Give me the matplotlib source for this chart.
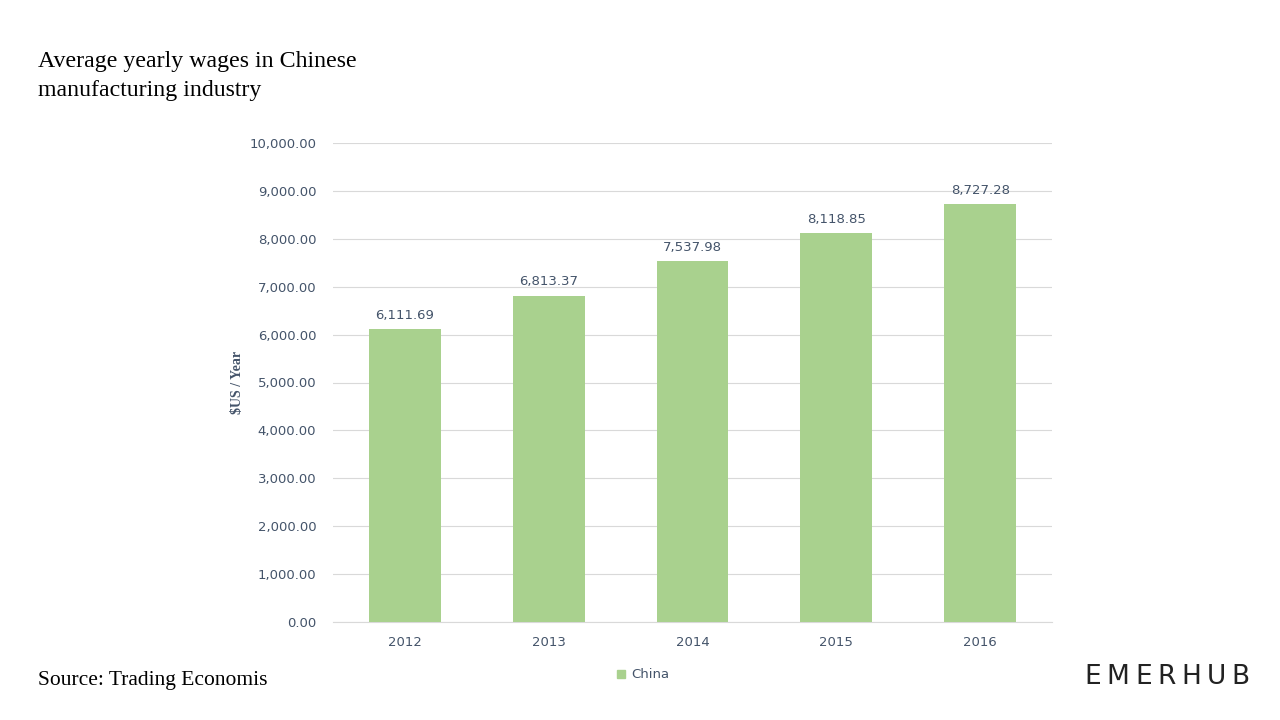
import matplotlib.pyplot as plt
from matplotlib.ticker import FuncFormatter, MultipleLocator
from matplotlib.patches import Rectangle

years = ['2012', '2013', '2014', '2015', '2016']
wages = [6111.69, 6813.37, 7537.98, 8118.85, 8727.28]

BAR = '#A9D18E'
TXT = '#44546A'
GRID = '#D9D9D9'

fig = plt.figure(figsize=(12.8, 7.2), dpi=100)
ax = fig.add_axes([0.260, 0.1361, 0.562, 0.6653])

x = range(len(years))
ax.bar(x, wages, width=0.5, color=BAR, zorder=3)
for i, v in zip(x, wages):
    ax.text(i, v + 150, f'{v:,.2f}', ha='center', va='bottom', fontsize=9.5, color=TXT)

ax.set_xlim(-0.5, len(years) - 0.5)
ax.set_ylim(0, 10000)
ax.yaxis.set_major_locator(MultipleLocator(1000))
ax.yaxis.set_major_formatter(FuncFormatter(lambda v, p: f'{v:,.2f}'))
ax.set_xticks(list(x))
ax.set_xticklabels(years)
ax.grid(axis='y', color=GRID, linewidth=0.8, zorder=0)
for s in ['top', 'right', 'left']:
    ax.spines[s].set_visible(False)
ax.spines['bottom'].set_color(GRID)
ax.tick_params(axis='both', length=0, labelsize=9.5, labelcolor=TXT, pad=12)
ax.tick_params(axis='x', pad=10)
ax.set_ylabel('$US / Year', family='Liberation Serif', fontweight='bold', fontsize=10,
              color=TXT, labelpad=4)

# legend
fig.patches.append(Rectangle((617 / 1280, 1 - 678 / 720), 8 / 1280, 8 / 720,
                             transform=fig.transFigure, color=BAR))
fig.text(631 / 1280, 1 - 674 / 720, 'China', fontsize=9.5, color=TXT, va='center')

fig.text(38 / 1280, 1 - 76 / 720, 'Average yearly wages in Chinese\nmanufacturing industry',
         family='Liberation Serif', fontsize=17.2, color='black', va='center', linespacing=1.55)
fig.text(38 / 1280, 1 - 680 / 720, 'Source: Trading Economis', family='Liberation Serif',
         fontsize=15.5, color='black', va='center')

# letter-spaced logo: measure each letter, spread gaps evenly
logo = 'EMERHUB'
renderer = fig.canvas.get_renderer()
letters = [fig.text(0, 1 - 677 / 720, ch, family='DejaVu Sans', fontsize=19,
                    color='#222222', va='center', ha='left') for ch in logo]
widths = [t.get_window_extent(renderer).width for t in letters]
x0, x1 = 1084, 1250
gap = (x1 - x0 - sum(widths)) / (len(logo) - 1)
pos = x0
for t, w in zip(letters, widths):
    t.set_x(pos / 1280)
    pos += w + gap

fig.savefig('out.png', dpi=100)
